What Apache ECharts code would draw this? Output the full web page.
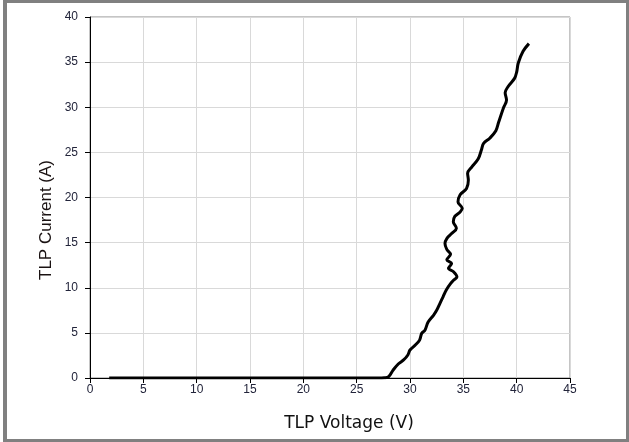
<!DOCTYPE html>
<html>
<head>
<meta charset="utf-8">
<script src="https://cdn.jsdelivr.net/npm/echarts@6/dist/echarts.min.js"></script>
<style>
html,body{margin:0;padding:0;background:#fff;}
#wrap{position:relative;width:629px;height:442px;overflow:hidden;}
#chart{position:absolute;left:0;top:0;width:629px;height:442px;}
#frame{position:absolute;left:3px;top:0;width:626px;height:442px;box-sizing:border-box;border:3px solid #808080;border-left-width:4px;pointer-events:none;}
</style>
</head>
<body>
<div id="wrap"><div id="chart"></div><div id="frame"></div></div>
<script>
const xTicks = [0, 5, 10, 15, 20, 25, 30, 35, 40, 45];
const yTicks = [0, 5, 10, 15, 20, 25, 30, 35, 40];
const xTitle = 'TLP Voltage (V)';
const yTitle = 'TLP Current (A)';
const voltage = [1.8, 27.0, 27.6, 28.0, 28.4, 28.9, 29.4, 29.8, 30.0, 30.5, 30.9, 31.1, 31.4, 31.7, 32.2, 32.5, 32.8, 33.1, 33.4, 33.8, 34.1, 34.4, 34.05, 33.6, 33.9, 33.45, 33.8, 33.45, 33.28, 33.45, 33.9, 34.35, 34.06, 34.2, 34.7, 34.9, 34.5, 34.7, 35.3, 35.47, 35.4, 35.8, 36.4, 36.7, 36.9, 37.5, 38.05, 38.3, 38.75, 39.05, 38.92, 39.2, 39.8, 40.0, 40.15, 40.6, 41.15];
const current = [0, 0, 0.03, 0.15, 0.85, 1.55, 2.0, 2.55, 3.1, 3.65, 4.2, 4.95, 5.3, 6.2, 6.95, 7.5, 8.25, 9.0, 9.75, 10.45, 10.85, 11.2, 11.8, 12.15, 12.7, 13.1, 13.7, 14.25, 14.9, 15.45, 16.0, 16.6, 17.3, 17.9, 18.4, 18.8, 19.5, 20.3, 21.0, 21.9, 22.7, 23.4, 24.3, 25.3, 26.0, 26.6, 27.4, 28.3, 29.9, 30.8, 31.6, 32.3, 33.2, 33.9, 34.9, 36.2, 37.05];

const pts = voltage.map((v, i) => [v, current[i]]);
const chart = echarts.init(document.getElementById('chart'), null, {renderer: 'canvas'});
const labelStyle = {color: '#22243a', fontFamily: 'Liberation Sans, Arial, sans-serif', fontSize: 12};
chart.setOption({
  animation: false,
  grid: {left: 90, right: 59, top: 17, bottom: 64, show: true, borderColor: '#8a8a8a', borderWidth: 1, backgroundColor: 'transparent'},
  xAxis: {
    type: 'value', min: xTicks[0], max: xTicks[xTicks.length - 1], interval: xTicks[1] - xTicks[0],
    axisLine: {show: true, onZero: false, lineStyle: {color: '#000', width: 1}},
    axisTick: {show: true, length: 5, lineStyle: {color: '#000'}},
    axisLabel: Object.assign({margin: 6}, labelStyle),
    splitLine: {show: true, lineStyle: {color: '#d9d9d9', width: 1}}
  },
  yAxis: {
    type: 'value', min: yTicks[0], max: yTicks[yTicks.length - 1], interval: yTicks[1] - yTicks[0],
    axisLine: {show: true, onZero: false, lineStyle: {color: '#000', width: 1}},
    axisTick: {show: true, length: 5, lineStyle: {color: '#000'}},
    axisLabel: Object.assign({margin: 12}, labelStyle),
    splitLine: {show: true, lineStyle: {color: '#d9d9d9', width: 1}}
  },
  graphic: [
    {type: 'text', x: 349, y: 424, style: {text: xTitle, fill: '#111', font: '17px "DejaVu Sans", Verdana, sans-serif', textAlign: 'center', textVerticalAlign: 'middle'}},
    {type: 'text', x: 46, y: 220, rotation: Math.PI / 2, style: {text: yTitle, fill: '#1a1212', font: '17px "Liberation Sans", Arial, sans-serif', textAlign: 'center', textVerticalAlign: 'middle'}}
  ],
  series: [{
    type: 'line', data: pts, showSymbol: false, smooth: 0.35,
    lineStyle: {color: '#000', width: 3}, z: 5
  }]
});
</script>
</body>
</html>
